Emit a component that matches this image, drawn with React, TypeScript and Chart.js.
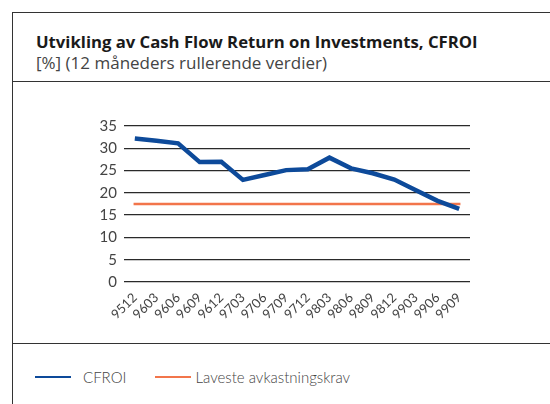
import React, { useEffect, useRef } from "react";
import { Chart, registerables } from "chart.js";

Chart.register(...registerables);

const categories = ["9512", "9603", "9606", "9609", "9612", "9703", "9706", "9709", "9712", "9803", "9806", "9809", "9812", "9903", "9906", "9909"];
const cfroi = [32.2, 31.7, 31.1, 26.9, 27.0, 22.9, 24.0, 25.1, 25.3, 27.9, 25.5, 24.4, 23.0, 20.6, 18.2, 16.4];
const minReturn = [17.5, 17.5, 17.5, 17.5, 17.5, 17.5, 17.5, 17.5, 17.5, 17.5, 17.5, 17.5, 17.5, 17.5, 17.5, 17.5];
const yTicks = [0, 5, 10, 15, 20, 25, 30, 35];

const BLUE = "#0d4a9a";
const ORANGE = "#f2754b";
const FONT = "Lato, 'Open Sans', sans-serif";
const HEAD_FONT = "'Open Sans', Lato, sans-serif";

export default function App() {
  const ref = useRef<HTMLCanvasElement | null>(null);
  useEffect(() => {
    if (!ref.current) return;
    const chart = new Chart(ref.current, {
      type: "line",
      data: {
        labels: categories,
        datasets: [
          { label: "CFROI", data: cfroi, borderColor: BLUE, borderWidth: 4.5, pointRadius: 0, tension: 0, borderJoinStyle: "miter" },
          { label: "Laveste avkastningskrav", data: minReturn, borderColor: ORANGE, borderWidth: 2.5, pointRadius: 0, borderCapStyle: "square" },
        ],
      },
      options: {
        animation: false,
        responsive: false,
        maintainAspectRatio: false,
        layout: { padding: { top: 14, right: 20, left: 0, bottom: 0 } },
        plugins: { legend: { display: false }, tooltip: { enabled: false }, title: { display: false } },
        scales: {
          x: {
            offset: true,
            grid: { display: false, drawTicks: false },
            border: { display: false },
            ticks: { autoSkip: false, minRotation: 45, maxRotation: 45, color: "#444", font: { family: FONT, size: 13 }, padding: 8 },
            afterFit: (s: any) => { s.height = 58; },
          },
          y: {
            min: 0,
            max: 35,
            afterBuildTicks: (s: any) => { s.ticks = yTicks.map((v) => ({ value: v })); },
            grid: { color: "#2a2a2a", lineWidth: 1.3, drawTicks: false },
            border: { display: false },
            ticks: { color: "#444", font: { family: FONT, size: 15 }, padding: 7 },
            afterFit: (s: any) => { s.width = 64; },
          },
        },
      },
    });
    return () => chart.destroy();
  }, []);

  const legendLine = (color: string) => ({ display: "inline-block", width: 36, height: 2, background: color, verticalAlign: "middle" });

  return (
    <div style={{ position: "absolute", left: 0, top: 0, width: 550, height: 404, overflow: "hidden", background: "#fff", fontFamily: FONT }}>
      <div style={{ position: "absolute", left: 12, top: 12, width: 600, height: 500, border: "1px solid #333", boxSizing: "border-box" }} />
      <div style={{ position: "absolute", left: 12, top: 81, width: 600, height: 1, background: "#333" }} />
      <div style={{ position: "absolute", left: 12, top: 343, width: 600, height: 1, background: "#333" }} />
      <div style={{ position: "absolute", left: 36, top: 30, fontFamily: HEAD_FONT, fontSize: 16.7, fontWeight: 700, color: "#1a1a1a", whiteSpace: "nowrap" }}>
        Utvikling av Cash Flow Return on Investments, CFROI
      </div>
      <div style={{ position: "absolute", left: 36, top: 51, fontFamily: HEAD_FONT, fontSize: 17, fontWeight: 400, color: "#444", whiteSpace: "nowrap" }}>
        [%] (12 måneders rullerende verdier)
      </div>
      <canvas ref={ref} width={430} height={230} style={{ position: "absolute", left: 60, top: 110, width: 430, height: 230 }} />
      <div style={{ position: "absolute", left: 35, top: 366, fontSize: 15, color: "#444", whiteSpace: "nowrap", fontWeight: 300 }}>
        <span style={legendLine(BLUE)} />
        <span style={{ marginLeft: 12, verticalAlign: "middle" }}>CFROI</span>
        <span style={{ ...legendLine(ORANGE), marginLeft: 29 }} />
        <span style={{ marginLeft: 4, verticalAlign: "middle" }}>Laveste avkastningskrav</span>
      </div>
    </div>
  );
}
